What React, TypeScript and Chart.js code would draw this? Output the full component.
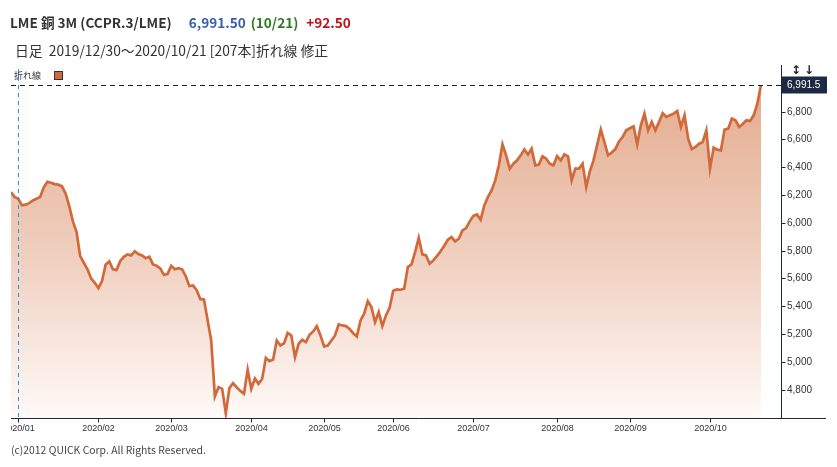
import React, { useEffect, useRef } from 'react';
import { Chart, registerables } from 'chart.js';

Chart.register(...registerables);

// LME copper 3M daily closes, 2019/12/30 - 2020/10/21 (207 trading days)
const closes: number[] = [
  6220, 6185, 6172, 6125, 6130, 6141, 6160, 6172, 6185, 6255,
  6295, 6288, 6278, 6274, 6262, 6210, 6120, 6010, 5935, 5760,
  5712, 5665, 5600, 5568, 5530, 5580, 5700, 5722, 5665, 5660,
  5725, 5755, 5772, 5765, 5795, 5775, 5765, 5745, 5755, 5700,
  5690, 5672, 5625, 5630, 5690, 5665, 5673, 5665, 5615, 5545,
  5549, 5515, 5450, 5448, 5300, 5150, 4750, 4817, 4805, 4630,
  4810, 4845, 4815, 4790, 4770, 4942, 4805, 4880, 4841, 4877,
  5028, 5004, 5016, 5153, 5117, 5133, 5208, 5189, 5033, 5129,
  5158, 5141, 5194, 5218, 5256, 5189, 5110, 5117, 5153, 5189,
  5268, 5261, 5256, 5235, 5205, 5182, 5297, 5345, 5436, 5393,
  5285, 5357, 5256, 5333, 5390, 5510, 5520, 5518, 5525, 5681,
  5700, 5789, 5892, 5772, 5765, 5705, 5729, 5760, 5795, 5835,
  5878, 5897, 5866, 5885, 5945, 5961, 6010, 6050, 6060, 6022,
  6125, 6185, 6233, 6305, 6413, 6564, 6485, 6389, 6425, 6449,
  6485, 6528, 6490, 6533, 6413, 6418, 6478, 6461, 6425, 6413,
  6480, 6449, 6492, 6478, 6305, 6389, 6389, 6425, 6257, 6370,
  6449, 6560, 6670, 6580, 6485, 6505, 6530, 6585, 6617, 6665,
  6680, 6694, 6564, 6701, 6785, 6665, 6725, 6665, 6725, 6789,
  6761, 6773, 6785, 6804, 6689, 6773, 6605, 6530, 6545, 6569,
  6581, 6665, 6389, 6540, 6526, 6521, 6670, 6677, 6749, 6737,
  6689, 6710, 6737, 6732, 6773, 6857, 6991.5,
];

// index of first trading day of each month, and its label
const monthTickIndex: number[] = [2, 24, 44, 66, 86, 105, 127, 150, 170, 192];
const monthTickLabels: string[] = [
  '2020/01', '2020/02', '2020/03', '2020/04', '2020/05',
  '2020/06', '2020/07', '2020/08', '2020/09', '2020/10',
];
const yTickValues: number[] = [4800, 5000, 5200, 5400, 5600, 5800, 6000, 6200, 6400, 6600, 6800];
const lastLabel = '6,991.5';

const AXIS = '#1e2a44';
const LINE = '#d2693a';

export default function App() {
  const ref = useRef<HTMLCanvasElement | null>(null);

  useEffect(() => {
    const canvas = ref.current;
    if (!canvas) return;

    const overlay = {
      id: 'quickOverlay',
      afterDatasetsDraw(chart: any) {
        const { ctx, chartArea: ca, scales } = chart;
        const x = scales.x;
        const y = scales.y;
        ctx.save();

        // crosshair (blue dashed vertical)
        const cx = Math.round(x.getPixelForValue(monthTickIndex[0])) + 0.5;
        ctx.strokeStyle = '#1a9be0';
        ctx.lineWidth = 1;
        ctx.setLineDash([4, 4]);
        ctx.beginPath();
        ctx.moveTo(cx, ca.top + 4);
        ctx.lineTo(cx, ca.bottom);
        ctx.stroke();

        // last value dashed horizontal line
        const last = closes[closes.length - 1];
        const ly = Math.round(y.getPixelForValue(last)) + 0.5;
        ctx.strokeStyle = '#222';
        ctx.setLineDash([5, 4]);
        ctx.beginPath();
        ctx.moveTo(ca.left, ly);
        ctx.lineTo(ca.right, ly);
        ctx.stroke();
        ctx.setLineDash([]);

        // axes lines
        ctx.strokeStyle = AXIS;
        ctx.lineWidth = 1;
        const by = Math.round(ca.bottom) + 0.5;
        const rx = Math.round(ca.right) + 0.5;
        ctx.beginPath();
        ctx.moveTo(ca.left, by);
        ctx.lineTo(826, by);
        ctx.moveTo(rx, ca.top);
        ctx.lineTo(rx, ca.bottom);
        ctx.stroke();

        // x ticks + labels
        ctx.save();
        ctx.beginPath();
        ctx.rect(ca.left, ca.bottom, 837, 40);
        ctx.clip();
        ctx.font = '9px "Liberation Sans", Arial, sans-serif';
        ctx.fillStyle = '#333';
        ctx.textAlign = 'center';
        ctx.textBaseline = 'middle';
        monthTickIndex.forEach((idx, i) => {
          const px = Math.round(x.getPixelForValue(idx)) + 0.5;
          ctx.beginPath();
          ctx.moveTo(px, by);
          ctx.lineTo(px, by + 4);
          ctx.stroke();
          ctx.fillText(monthTickLabels[i], px, ca.bottom + 11);
        });
        ctx.restore();

        // y ticks + labels
        ctx.font = '10px "Liberation Sans", Arial, sans-serif';
        ctx.fillStyle = '#333';
        ctx.textAlign = 'left';
        ctx.textBaseline = 'middle';
        yTickValues.forEach((v) => {
          const py = Math.round(y.getPixelForValue(v)) + 0.5;
          ctx.beginPath();
          ctx.moveTo(rx, py);
          ctx.lineTo(rx + 4, py);
          ctx.stroke();
          ctx.fillText(v.toLocaleString('en-US'), ca.right + 6, py);
        });

        // last value box
        ctx.fillStyle = AXIS;
        ctx.fillRect(ca.right + 1, ly - 9, 45, 17);
        ctx.fillStyle = '#fff';
        ctx.fillText(lastLabel, ca.right + 6, ly);

        // arrow icons
        ctx.fillStyle = '#222';
        ctx.font = 'bold 12px "DejaVu Sans", sans-serif';
        ctx.textAlign = 'center';
        ctx.fillText('↕', 796, ca.top + 6);
        ctx.fillText('↓', 809, ca.top + 6);

        ctx.restore();
      },
    };

    const chart = new Chart(canvas, {
      type: 'line',
      data: {
        datasets: [
          {
            data: closes.map((v, i) => ({ x: i, y: v })),
            borderColor: LINE,
            borderWidth: 2.7,
            pointRadius: 0,
            tension: 0,
            fill: 'start',
            backgroundColor: (c: any) => {
              const ca = c.chart.chartArea;
              if (!ca) return 'rgba(230,180,150,0.5)';
              const g = c.chart.ctx.createLinearGradient(0, ca.top, 0, ca.bottom);
              g.addColorStop(0, 'rgb(226,168,136)');
              g.addColorStop(0.55, 'rgb(240,208,192)');
              g.addColorStop(1, 'rgb(255,250,248)');
              return g;
            },
          },
        ],
      },
      options: {
        animation: false,
        responsive: false,
        maintainAspectRatio: false,
        layout: { padding: { left: 11, right: 56, top: 65, bottom: 49 } },
        scales: {
          x: { type: 'linear', min: 0, max: 211.5, display: false },
          y: { type: 'linear', min: 4595, max: 7135, display: false },
        },
        plugins: { legend: { display: false }, tooltip: { enabled: false } },
      },
      plugins: [overlay],
    });

    return () => chart.destroy();
  }, []);

  const font = '"Noto Sans CJK JP", "Noto Sans", sans-serif';

  return (
    <div style={{ position: 'absolute', left: 0, top: 0, width: 837, height: 467, background: '#fff', fontFamily: font, overflow: 'hidden' }}>
      <canvas ref={ref} width={837} height={467} style={{ position: 'absolute', left: 0, top: 0, display: 'block' }} />
      <div style={{ position: 'absolute', left: 10, top: 13, fontSize: 13.6, lineHeight: '18px', fontWeight: 700, color: '#333', whiteSpace: 'nowrap' }}>
        <span>LME 銅 3M (CCPR.3/LME)</span>
        <span style={{ color: '#3a5fa6', marginLeft: 17 }}>6,991.50</span>
        <span style={{ color: '#2a7a1e', marginLeft: 5 }}>(10/21)</span>
        <span style={{ color: '#c0101a', marginLeft: 8 }}>+92.50</span>
      </div>
      <div style={{ position: 'absolute', left: 15, top: 41, fontSize: 13.8, lineHeight: '18px', color: '#333', whiteSpace: 'nowrap' }}>
        日足&nbsp;&nbsp;2019/12/30〜2020/10/21 [207本]折れ線 修正
      </div>
      <div style={{ position: 'absolute', left: 14, top: 70, fontSize: 9, lineHeight: '12px', color: '#333', whiteSpace: 'nowrap' }}>
        折れ線
      </div>
      <div style={{ position: 'absolute', left: 54, top: 71, width: 7, height: 7, background: LINE, border: '1px solid #333' }} />
      <div style={{ position: 'absolute', left: 11, top: 442, fontSize: 10.4, lineHeight: '16px', color: '#444', whiteSpace: 'nowrap' }}>
        (c)2012 QUICK Corp. All Rights Reserved.
      </div>
    </div>
  );
}
